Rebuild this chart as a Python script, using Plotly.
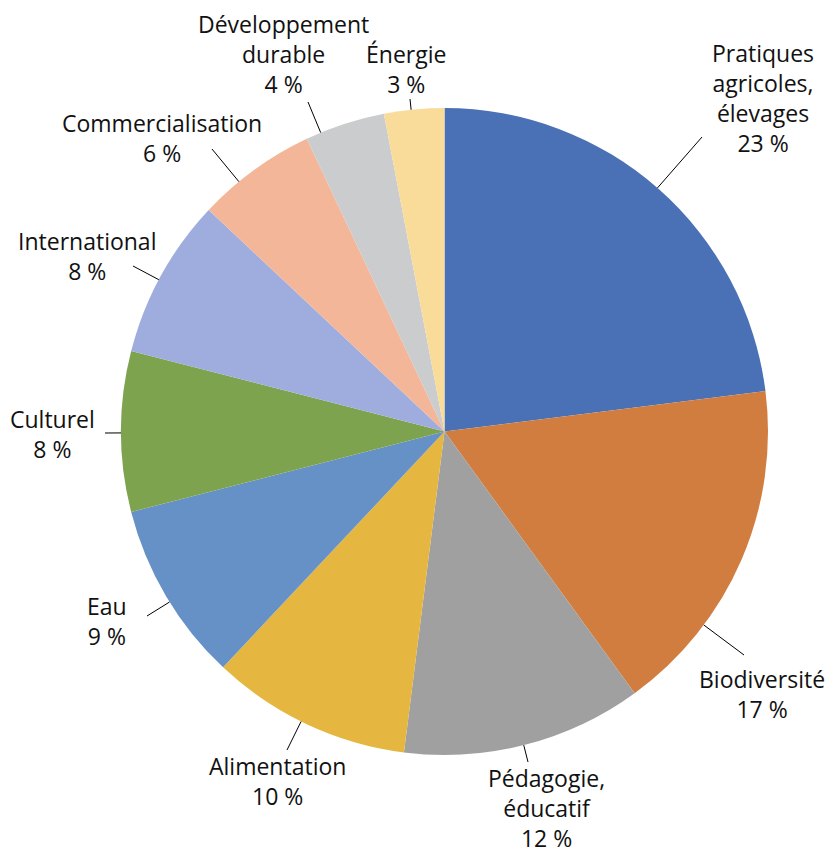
import math
import plotly.graph_objects as go

# ---- data ----
categories = ["Pratiques agricoles, élevages", "Biodiversité", "Pédagogie, éducatif",
              "Alimentation", "Eau", "Culturel", "International", "Commercialisation",
              "Développement durable", "Énergie"]
values = [23, 17, 12, 10, 9, 8, 8, 6, 4, 3]
label_text = ["Pratiques<br>agricoles,<br>élevages", "Biodiversité", "Pédagogie,<br>éducatif",
              "Alimentation", "Eau", "Culturel", "International", "Commercialisation",
              "Développement<br>durable", "Énergie"]
colors = ["#4a70b5", "#d17d40", "#a0a0a0", "#e5b740", "#6691c6", "#7ea34f",
          "#9eadde", "#f3b699", "#cbcccd", "#f9dc99"]

# ---- layout (pixels) ----
W, H = 828, 852
CX, CY, R = 444.5, 431.5, 323.5
# label block centres and leader-line outer ends (layout only)
label_pos = [(763, 98), (762, 694), (546, 808), (277, 781), (107, 621),
             (52, 434), (87, 256), (162, 138), (283, 54), (406, 69)]
leader_end = [(702, 137), (744, 655), (528, 762), (287, 750), (147, 616),
              (105, 433), (133, 266), (212, 149), (308, 102), (410, 99)]

def px(x):
    return x / W

def py(y):
    return 1 - y / H

fig = go.Figure(go.Pie(
    labels=categories, values=values, sort=False, direction="clockwise", rotation=0,
    marker=dict(colors=colors, line=dict(width=0)),
    textinfo="none", hoverinfo="label+percent",
    domain=dict(x=[px(CX - R), px(CX + R)], y=[py(CY + R), py(CY - R)]),
    showlegend=False,
))

total = sum(values)
shapes, annotations = [], []
for i, v in enumerate(values):
    ex, ey = leader_end[i]
    dx, dy = ex - CX, ey - CY
    d = math.hypot(dx, dy)
    sx, sy = CX + R * dx / d, CY + R * dy / d
    shapes.append(dict(type="line", xref="paper", yref="paper",
                       x0=px(sx), y0=py(sy), x1=px(ex), y1=py(ey),
                       line=dict(color="#000000", width=1)))
    lx, ly = label_pos[i]
    pct = round(100 * v / total)
    annotations.append(dict(xref="paper", yref="paper", x=px(lx), y=py(ly),
                            xanchor="center", yanchor="middle", showarrow=False,
                            text=f"{label_text[i]}<br>{pct} %", align="center",
                            font=dict(family="Open Sans", size=23, color="#111111")))

fig.update_layout(
    width=W, height=H, margin=dict(l=0, r=0, t=0, b=0),
    paper_bgcolor="white", plot_bgcolor="white",
    shapes=shapes, annotations=annotations,
)

fig.write_html("out.html", config={"displayModeBar": False},
               post_script="document.body.style.margin='0px';document.body.style.overflow='hidden';")
